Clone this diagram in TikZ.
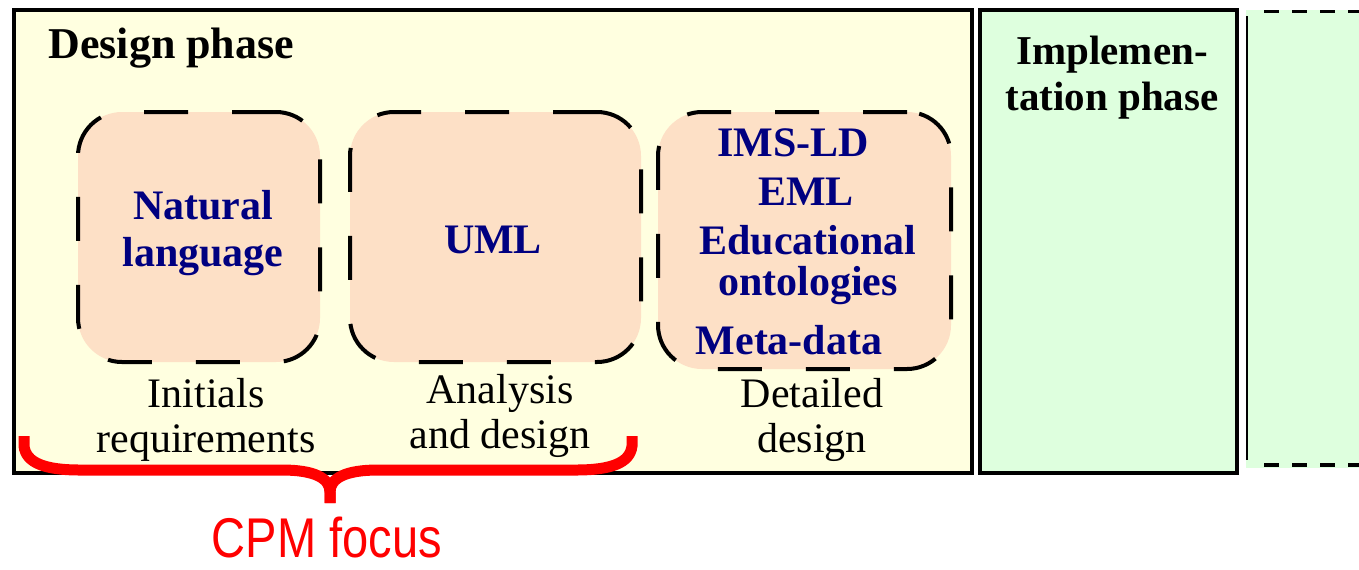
\documentclass[tikz,border=0pt]{standalone}
\usepackage{fontspec}
\setmainfont{Liberation Serif}
\newfontfamily\cpmfont[FakeStretch=0.84]{Liberation Sans}
\definecolor{designbg}{RGB}{255,255,224}
\definecolor{implbg}{RGB}{222,255,222}
\definecolor{peach}{RGB}{253,224,198}
\definecolor{navytext}{RGB}{0,0,128}
\definecolor{bracered}{RGB}{255,0,0}
\begin{document}
\begin{tikzpicture}[x=0.5pt,y=-0.5pt,
  phasebox/.style={draw=black,line width=1.6pt},
  techbox/.style={draw=black,fill=peach,line width=2pt,rounded corners=22pt,
    dash pattern=on 22pt off 22pt,inner sep=0pt},
  techtext/.style={text=navytext,font=\fontsize{21}{23.5}\selectfont\bfseries,inner sep=0pt,align=center},
  steptext/.style={font=\fontsize{21}{22.5}\selectfont,inner sep=0pt,align=center},
  phasetitle/.style={font=\fontsize{20.5}{23}\selectfont\bfseries,inner sep=0pt,align=center},
  bracepath/.style={draw=bracered,line width=5.5pt,line cap=butt}]
\useasboundingbox (0,0) rectangle (1359,569);

% phase panels
\draw[phasebox,fill=designbg] (14,10) rectangle (972,473);
\draw[phasebox,fill=implbg] (980,10) rectangle (1237,473);
\fill[implbg] (1246,10) rectangle (1359,468);
\draw[black,line width=0.8pt] (1247,16) -- (1247,460);
\draw[black,line width=1.6pt,dash pattern=on 7.5pt off 6.5pt] (1264,11.5) -- (1359,11.5);
\draw[black,line width=1.6pt,dash pattern=on 7.5pt off 6.5pt] (1264,465) -- (1359,465);

\node[phasetitle,anchor=west,font=\fontsize{22}{24}\selectfont\bfseries] (design) at (48,48) {Design phase};
\node[phasetitle] (impl) at (1112,78) {Implemen-\\tation phase};

% technique boxes
\node[techbox,minimum width=121pt,minimum height=125pt] (nl) at (199,237) {};
\node[techbox,minimum width=145.5pt,minimum height=125pt] (uml) at (495.5,237) {};
\node[techbox,minimum width=146.5pt,minimum height=128.5pt] (det) at (804.5,240.5) {};

\node[techtext] (nltext) at (203,233) {Natural\\language};
\node[techtext] (umltext) at (493,240) {UML};
\node[techtext] (ims) at (793,143) {IMS-LD};
\node[techtext] (eml) at (806,192) {EML};
\node[techtext] (edu) at (808,240) {Educational};
\node[techtext] (onto) at (808,286) {ontologies};
\node[techtext] (meta) at (789,340) {Meta-data};

% step captions
\node[steptext] (initial) at (206,420) {Initials\\requirements};
\node[steptext] (analysis) at (500,416) {Analysis\\and design};
\node[steptext] (detailed) at (812,420) {Detailed\\design};

% brace over the first two steps
\coordinate (bl) at (24,436);
\coordinate (br) at (632,436);
\coordinate (tip) at (330,503);
\draw[bracepath] (bl) -- (24,446) .. controls (26,463) and (45,470) .. (80,470)
  -- (282,470) .. controls (314,470) and (330,478) .. (330,492) -- (tip);
\draw[bracepath] (br) -- (632,446) .. controls (630,463) and (611,470) .. (576,470)
  -- (378,470) .. controls (346,470) and (330,478) .. (330,492) -- (tip);
\node[text=bracered,font=\cpmfont\fontsize{28}{30}\selectfont,inner sep=0pt] (cpm) at (327,537) {CPM focus};
\end{tikzpicture}
\end{document}
